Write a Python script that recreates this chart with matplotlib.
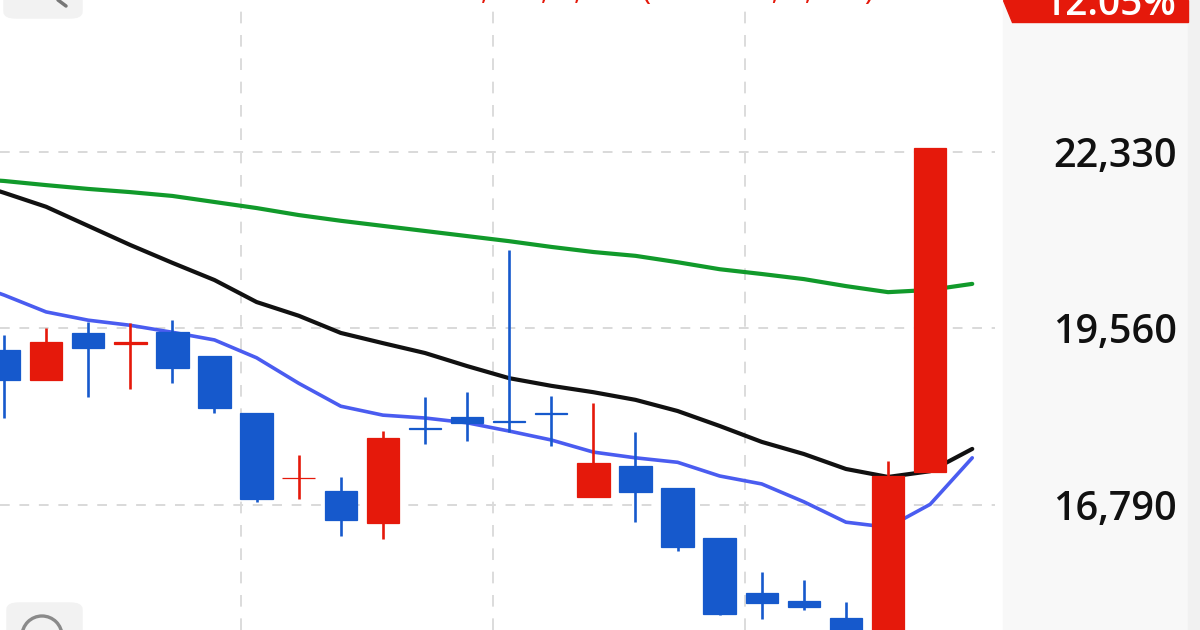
import matplotlib
matplotlib.use('Agg')
import matplotlib.pyplot as plt
from matplotlib.patches import Polygon, FancyBboxPatch, Circle, Rectangle
from matplotlib.transforms import IdentityTransform
import numpy as np

# daily candles (open, high, low, close), oldest first
opens  = [19220, 18750, 19490, 19320, 19500, 19130, 18230, 17210, 17010, 16510, 18000, 18170,
          18110, 18230, 16920, 17400, 17060, 16270, 15410, 15280, 15020, 14700, 17300]
highs  = [19460, 19570, 19660, 19650, 19690, 19130, 18230, 17570, 17230, 17950, 18480, 18560,
          20790, 18500, 18390, 17940, 17060, 16270, 15740, 15610, 15270, 17480, 22400]
lows   = [18150, 18750, 18480, 18610, 18700, 18230, 16840, 16880, 16300, 16260, 17750, 17790,
          17940, 17720, 16920, 16520, 16070, 15060, 15000, 15140, 14600, 14600, 17300]
closes = [18750, 19350, 19250, 19340, 18940, 18310, 16880, 17220, 16550, 17840, 17990, 18080,
          18100, 18220, 17450, 16990, 16130, 15080, 15250, 15190, 14700, 17250, 22400]

# moving averages, one value per day starting the day before the first candle
ma_short = [20320, 20085, 19820, 19690, 19610, 19500, 19380, 19100, 18700, 18340, 18200, 18155,
            18080, 17950, 17810, 17620, 17530, 17460, 17245, 17120, 16840, 16520, 16440, 16800, 17530]
ma_mid   = [21900, 21690, 21470, 21170, 20870, 20590, 20320, 19975, 19760, 19490, 19330, 19175,
            18970, 18780, 18660, 18560, 18440, 18265, 18030, 17780, 17590, 17355, 17230, 17320, 17670]
ma_long  = [21920, 21875, 21810, 21750, 21700, 21640, 21545, 21450, 21340, 21250, 21170, 21090,
            21010, 20930, 20840, 20760, 20700, 20600, 20490, 20415, 20335, 20225, 20130, 20165, 20260]

price_ticks = [22330, 19560, 16790]
date_grid = [5.63, 11.62, 17.6]
change_pct = '12.05%'
headline = '21,000, 2,260 (+12.05%, 3,490)'

RED = '#e5190b'
BLUE = '#1659cc'
FONT = ['Open Sans', 'DejaVu Sans']

fig = plt.figure(figsize=(12, 6.3), dpi=100)

# right price panel (behind the axes)
fig.patches.append(Rectangle((1003 / 1200, 0), 185 / 1200, 1, transform=fig.transFigure,
                             color='#f8f8f8', zorder=-2))
fig.patches.append(Rectangle((1188 / 1200, 0), 12 / 1200, 1, transform=fig.transFigure,
                             color='#f1f1f1', zorder=-2))

ax = fig.add_axes([0, 0, 1, 1])
ax.set_xlim(-0.095, 28.41)
ax.set_ylim(14828, 24715)
ax.axis('off')

# grid
for p in price_ticks:
    ax.axhline(p, xmin=0, xmax=995 / 1200, color='#d9d9d9', lw=1.4, ls=(0, (5, 5)), zorder=1)
for g in date_grid:
    ax.axvline(g, color='#dcdcdc', lw=1.4, ls=(0, (6, 6)), zorder=1)

# moving averages
mx = np.arange(-1, len(ma_long) - 1)
ax.plot(mx, ma_long, color='#119a2b', lw=3.0, zorder=3, solid_capstyle='round')
ax.plot(mx, ma_mid, color='#111111', lw=3.0, zorder=3, solid_capstyle='round')
ax.plot(mx, ma_short, color='#4a5cf0', lw=2.6, zorder=3, solid_capstyle='round')

# candles
x = np.arange(len(opens))
o = np.array(opens)
c = np.array(closes)
cols = [RED if cc >= oo else BLUE for oo, cc in zip(opens, closes)]
ax.vlines(x, lows, highs, colors=cols, lw=1.9, zorder=4)
ax.bar(x, c - o, bottom=o, width=0.77, color=cols, edgecolor=cols, lw=0.9, zorder=5)

# price labels
for p in price_ticks:
    ax.text(1177 / 1200, p, f'{p:,}', transform=ax.get_yaxis_transform(), ha='right',
            va='center_baseline', fontsize=28.5, color='#111111', family=FONT,
            fontweight='semibold', zorder=6)

# change badge at top right
badge = Polygon(np.array([(1003, 630), (1188, 630), (1188, 608), (1012, 608)]) / [1200, 630],
                closed=True, transform=fig.transFigure, color=RED, zorder=5)
fig.patches.append(badge)
fig.text(1176 / 1200, 615 / 630, change_pct, ha='right', va='baseline', color='white',
         fontsize=28, family=FONT, fontweight='semibold', zorder=6)

# headline, mostly cut off by the top edge
fig.text(660 / 1200, 631 / 630, headline, ha='center', va='baseline',
         color=RED, fontsize=22, family=FONT, zorder=6)

# toolbar buttons peeking in at the corners
fig.patches.append(FancyBboxPatch((4 / 1200, 612 / 630), 78 / 1200, 30 / 630, transform=fig.transFigure,
                                  boxstyle='round,pad=0,rounding_size=0.01', color='#f2f2f2', zorder=5))
fig.lines.append(plt.Line2D([58 / 1200, 66 / 1200], [630 / 630, 624 / 630], transform=fig.transFigure,
                            color='#777777', lw=2.5, solid_capstyle='round', zorder=6))
fig.patches.append(FancyBboxPatch((7 / 1200, -10 / 630), 75 / 1200, 37 / 630, transform=fig.transFigure,
                                  boxstyle='round,pad=0,rounding_size=0.01', color='#f2f2f2', zorder=5))
fig.patches.append(Circle((42, -6), 20, transform=IdentityTransform(), fill=False,
                          ec='#8a8a8a', lw=2.4, zorder=6))

fig.savefig('out.png', dpi=100)
